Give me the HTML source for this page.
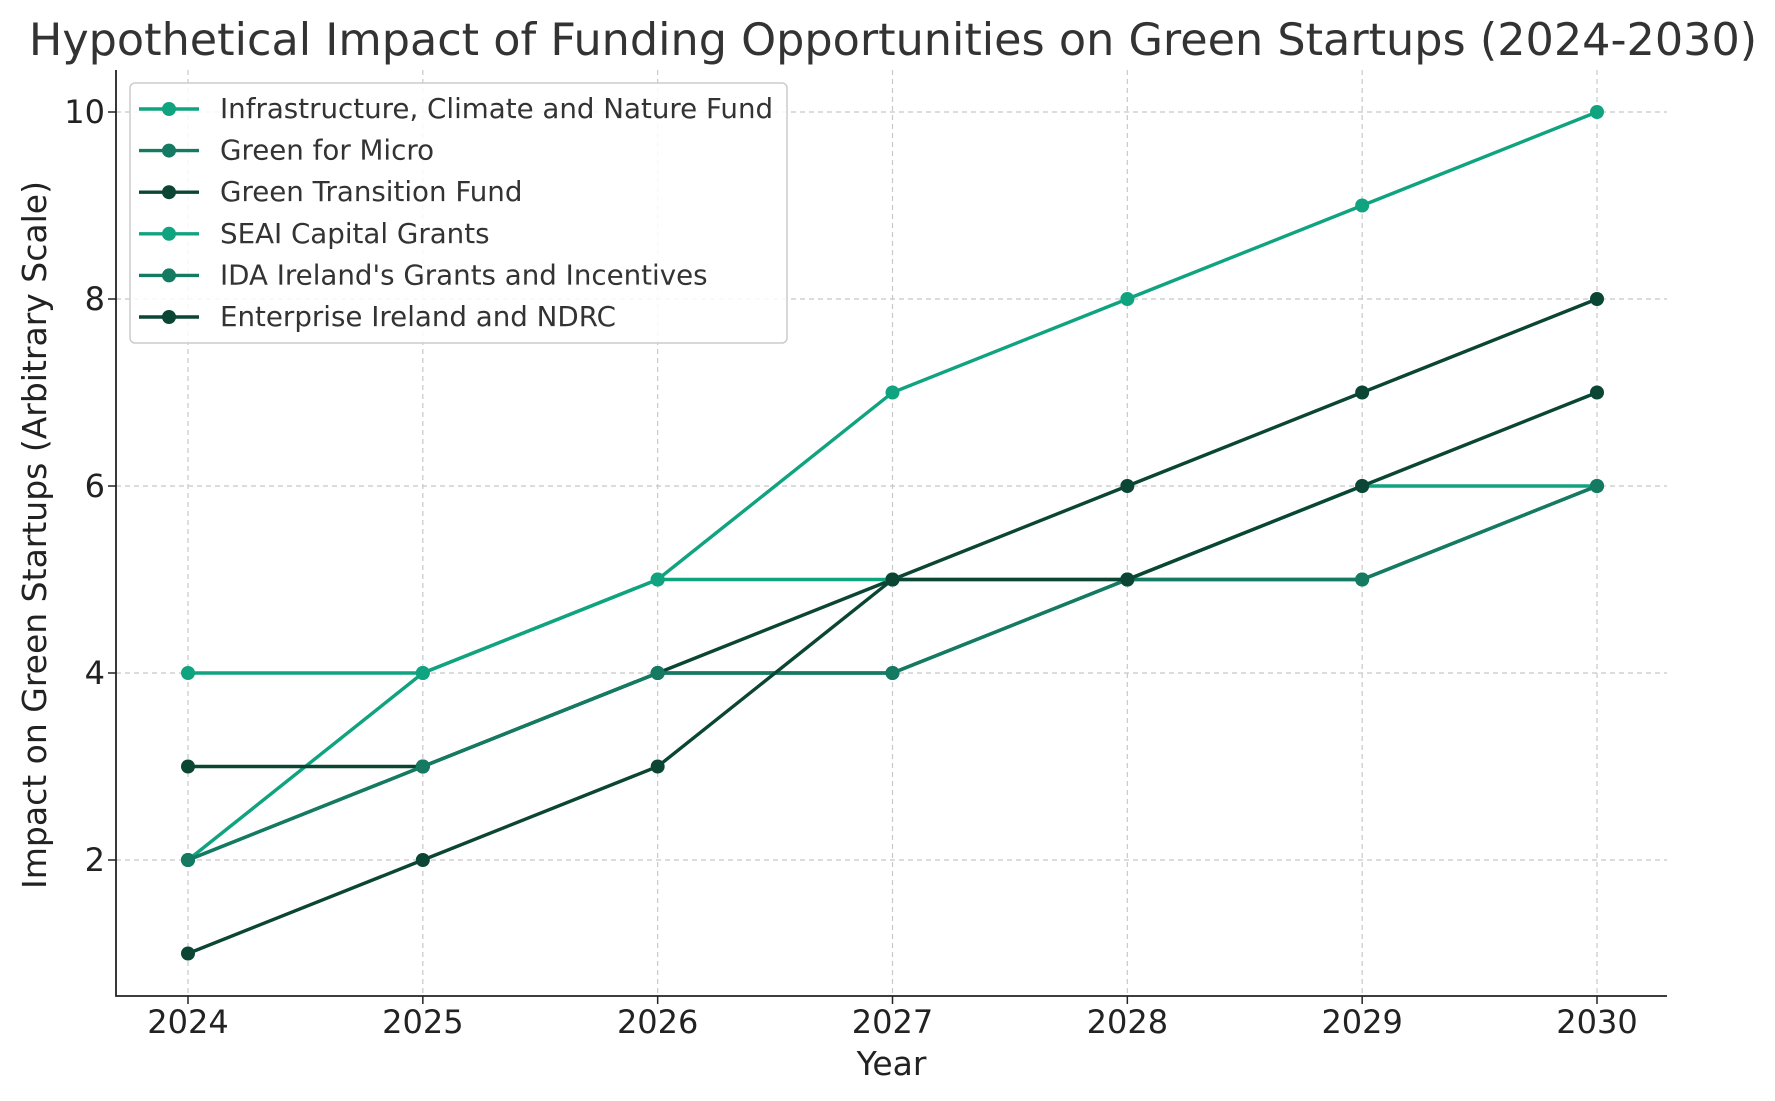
<!DOCTYPE html>
<html><head><meta charset="utf-8"><style>
html,body{margin:0;padding:0;background:#fff;}
svg{display:block;font-family:"DejaVu Sans","Liberation Sans",sans-serif;}
</style></head><body>
<svg id="chart" width="1775" height="1101" viewBox="0 0 1775 1101">
<rect width="1775" height="1101" fill="#fff"/>
<text x="893" y="55" text-anchor="middle" font-size="44.5" fill="#333">Hypothetical Impact of Funding Opportunities on Green Startups (2024-2030)</text>
<g id="grid"></g>
<g id="series"></g>
<g id="axes"></g>
<g id="legend"></g>
</svg>
<script>
const years = [2024, 2025, 2026, 2027, 2028, 2029, 2030];
const seriesNames = ["Infrastructure, Climate and Nature Fund","Green for Micro","Green Transition Fund","SEAI Capital Grants","IDA Ireland's Grants and Incentives","Enterprise Ireland and NDRC"];
const infraValues = [2, 4, 5, 7, 8, 9, 10];
const microValues = [2, 3, 4, 4, 5, 5, 6];
const transitionValues = [3, 3, 4, 5, 6, 7, 8];
const seaiValues = [4, 4, 5, 5, 5, 6, 6];
const idaValues = [2, 3, 4, 4, 5, 5, 6];
const enterpriseValues = [1, 2, 3, 5, 5, 6, 7];
const yTicks = [2, 4, 6, 8, 10];

const allValues = [infraValues, microValues, transitionValues, seaiValues, idaValues, enterpriseValues];
const colors = ["#10a37f","#147a62","#0b4534","#10a37f","#147a62","#0b4534"];
const NS = "http://www.w3.org/2000/svg";
const L = 116, R = 1667, T = 70, B = 996;
const x = yr => 188 + (yr - 2024) * (1597 - 188) / 6;
const y = v => 860 - (v - 2) * (860 - 112) / 8;
function mk(tag, attrs, parent) { const e = document.createElementNS(NS, tag); for (const k in attrs) e.setAttribute(k, attrs[k]); parent.appendChild(e); return e; }
const grid = document.getElementById('grid'), axes = document.getElementById('axes'), ser = document.getElementById('series'), leg = document.getElementById('legend');

years.forEach(yr => {
  const g = mk('line', {x1: x(yr), x2: x(yr), y1: T, y2: B, stroke: '#c8c8c8', 'stroke-dasharray': '5,4', 'stroke-width': 1.2}, grid);
  
  
  mk('line', {x1: x(yr), x2: x(yr), y1: B, y2: B + 8, stroke: '#222', 'stroke-width': 1.5}, axes);
  const t = mk('text', {x: x(yr), y: 1033, 'text-anchor': 'middle', 'font-size': 32, fill: '#222'}, axes);
  t.textContent = yr;
  
  
});
yTicks.forEach(v => {
  const g = mk('line', {x1: L, x2: R, y1: y(v), y2: y(v), stroke: '#c8c8c8', 'stroke-dasharray': '5,4', 'stroke-width': 1.2}, grid);
  
  
  mk('line', {x1: L - 8, x2: L, y1: y(v), y2: y(v), stroke: '#222', 'stroke-width': 1.5}, axes);
  const t = mk('text', {x: 105, y: y(v) + 11, 'text-anchor': 'end', 'font-size': 32, fill: '#222'}, axes);
  t.textContent = v;
  
  
});
const ax = mk('path', {d: `M${L},${T} L${L},${B} L${R},${B}`, fill: 'none', stroke: '#222', 'stroke-width': 1.8}, axes);


const xt = mk('text', {x: (L + R) / 2, y: 1075, 'text-anchor': 'middle', 'font-size': 33, fill: '#222'}, axes);
xt.textContent = 'Year';


const yt = mk('text', {x: 0, y: 0, 'text-anchor': 'middle', 'font-size': 33, fill: '#222', transform: `translate(46,${(T + B) / 2 + 2}) rotate(-90)`}, axes);
yt.textContent = 'Impact on Green Startups (Arbitrary Scale)';



allValues.forEach((vals, i) => {
  const g = mk('g', {}, ser);
  
  
  const p = mk('polyline', {points: vals.map((v, j) => x(years[j]) + ',' + y(v)).join(' '), fill: 'none', stroke: colors[i], 'stroke-width': 3.4}, g);
  
  
  vals.forEach((v, j) => {
    const c = mk('circle', {cx: x(years[j]), cy: y(v), r: 7, fill: colors[i]}, g);
    
    
  });
});

const box = mk('rect', {x: 130, y: 83, width: 657, height: 260, rx: 5, fill: '#fff', 'fill-opacity': 0.85, stroke: '#ccc', 'stroke-width': 1.5}, leg);


seriesNames.forEach((n, i) => {
  const cy = 109 + i * 41.6;
  const g = mk('g', {}, leg);
  
  
  mk('line', {x1: 139, x2: 199, y1: cy, y2: cy, stroke: colors[i], 'stroke-width': 3.4}, g);
  mk('circle', {cx: 169, cy: cy, r: 7, fill: colors[i]}, g);
  const t = mk('text', {x: 220, y: cy + 9, 'font-size': 27.7, fill: '#333'}, g);
  t.textContent = n;
});
</script>
</body></html>
